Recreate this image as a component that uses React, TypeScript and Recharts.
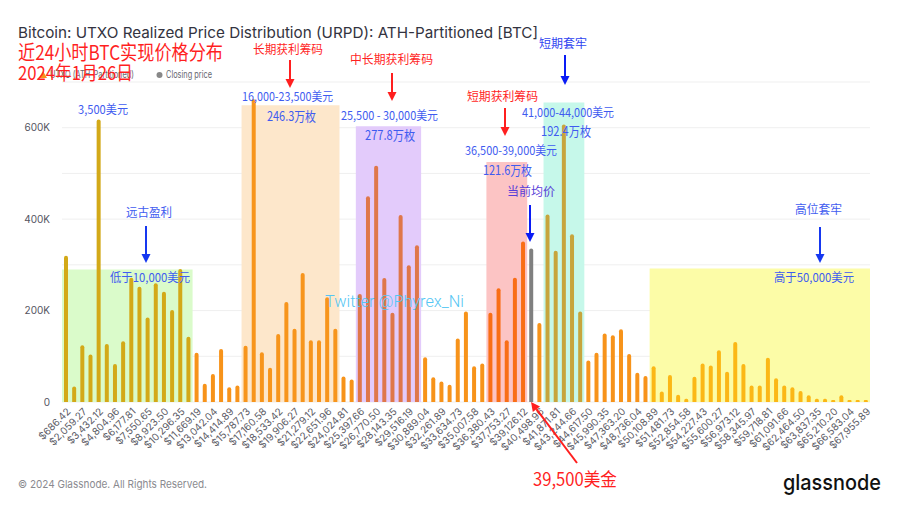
import React from 'react';
import { BarChart, Bar, XAxis, YAxis, CartesianGrid, ReferenceArea, Cell } from 'recharts';

const priceLabels = [
  '$686.42','$1,372.85','$2,059.27','$2,745.69','$3,432.12','$4,118.54','$4,804.96','$5,491.38','$6,177.81','$6,864.23',
  '$7,550.65','$8,237.08','$8,923.50','$9,609.92','$10,296.35','$10,982.77','$11,669.19','$12,355.62','$13,042.04','$13,728.46',
  '$14,414.89','$15,101.31','$15,787.73','$16,474.16','$17,160.58','$17,847.00','$18,533.42','$19,219.85','$19,906.27','$20,592.69',
  '$21,279.12','$21,965.54','$22,651.96','$23,338.39','$24,024.81','$24,711.23','$25,397.66','$26,084.08','$26,770.50','$27,456.93',
  '$28,143.35','$28,829.77','$29,516.19','$30,202.62','$30,889.04','$31,575.46','$32,261.89','$32,948.31','$33,634.73','$34,321.16',
  '$35,007.58','$35,694.00','$36,380.43','$37,066.85','$37,753.27','$38,439.70','$39,126.12','$39,812.54','$40,498.96','$41,185.39',
  '$41,871.81','$42,558.23','$43,244.66','$43,931.08','$44,617.50','$45,303.93','$45,990.35','$46,676.77','$47,363.20','$48,049.62',
  '$48,736.04','$49,422.47','$50,108.89','$50,795.31','$51,481.73','$52,168.16','$52,854.58','$53,541.00','$54,227.43','$54,913.85',
  '$55,600.27','$56,286.70','$56,973.12','$57,659.54','$58,345.97','$59,032.39','$59,718.81','$60,405.24','$61,091.66','$61,778.08',
  '$62,464.50','$63,150.93','$63,837.35','$64,523.77','$65,210.20','$65,896.62','$66,583.04','$67,269.47','$67,955.89',
];

const supplyBTC = [
  320000, 34000, 124000, 104000, 618000, 127000, 83000, 133000, 272000, 252000,
  185000, 260000, 241000, 201000, 291000, 143000, 108000, 40000, 61000, 116000,
  32000, 36000, 123000, 662000, 109000, 75000, 149000, 219000, 160000, 282000,
  135000, 135000, 229000, 160000, 56000, 49000, 236000, 450000, 517000, 271000,
  195000, 409000, 299000, 343000, 98000, 54000, 45000, 38000, 139000, 198000,
  78000, 84000, 195000, 249000, 135000, 272000, 351000, 336000, 173000, 410000,
  331000, 607000, 367000, 198000, 91000, 108000, 150000, 146000, 159000, 105000,
  64000, 57000, 78000, 23000, 59000, 16000, 7000, 55000, 84000, 80000,
  113000, 66000, 131000, 83000, 36000, 36000, 97000, 52000, 36000, 32000,
  24000, 15000, 7000, 7000, 3000, 15000, 1000, 3000, 4000,
];

const closingPriceLabel = '$39,812.54';

const yTicks = [0, 100000, 200000, 300000, 400000, 500000, 600000, 700000];

const zoneStart = ['$686.42', '$15,787.73', '$25,397.66', '$36,380.43', '$41,185.39', '$50,108.89'];
const zoneEnd = ['$10,982.77', '$23,338.39', '$30,202.62', '$39,126.12', '$43,931.08', '$67,955.89'];
const zoneTop = [290000, 649000, 603000, 525000, 655000, 292000];
const zoneFill = ['#dafbca', '#fde7cb', '#e3cbfb', '#fcc4c4', '#c6f8ea', '#fcfca7'];
const zoneBarColor = ['#d3a918', '#f7951c', '#df774a', '#f96e16', '#c7a53d', '#fbb716'];

const data = priceLabels.map((label, i) => ({ label, supply: supplyBTC[i] }));

const BASE = '#f7931a';

function barColor(label: string, idx: number) {
  if (label === closingPriceLabel) return '#808080';
  for (let z = 0; z < zoneStart.length; z++) {
    const s = priceLabels.indexOf(zoneStart[z]);
    const e = priceLabels.indexOf(zoneEnd[z]);
    if (idx >= s && idx <= e) return zoneBarColor[z];
  }
  return BASE;
}

const PriceTick = (props: any) => {
  const { x, y, payload } = props;
  return (
    <g transform={`translate(${x + 3},${y})`}>
      <text x={0} y={0} dy={3} textAnchor="end" transform="rotate(-45)" fontSize={10} fill="#5c5c66" fontFamily="Inter, sans-serif">
        {payload.value}
      </text>
    </g>
  );
};

const fmtY = (v: number) => (v === 0 ? '0' : v % 200000 === 0 ? `${v / 1000}K` : '');

function Arrow({ x1, y1, x2, y2, color, w = 2 }: any) {
  const dx = x2 - x1, dy = y2 - y1;
  const len = Math.sqrt(dx * dx + dy * dy);
  const ux = dx / len, uy = dy / len;
  const hl = 9, hw = 4.5;
  const bx = x2 - ux * hl, by = y2 - uy * hl;
  const px = -uy, py = ux;
  return (
    <g>
      <line x1={x1} y1={y1} x2={bx} y2={by} stroke={color} strokeWidth={w} />
      <polygon points={`${x2},${y2} ${bx + px * hw},${by + py * hw} ${bx - px * hw},${by - py * hw}`} fill={color} />
    </g>
  );
}

const CJK = '"Noto Sans CJK SC", sans-serif';
const BLUE = '#3f5cf0';
const RED = '#ff1f1f';

function T({ x, y, w, size = 12, fill = BLUE, children, family = CJK, weight = 400 }: any) {
  return (
    <text x={x} y={y} fontSize={size} fill={fill} fontFamily={family} fontWeight={weight}
      textLength={w} lengthAdjust="spacingAndGlyphs">{children}</text>
  );
}

export default function App() {
  return (
    <div style={{ position: 'absolute', left: 0, top: 0, width: 900, height: 507, background: '#fff', overflow: 'hidden' }}>
      <BarChart width={900} height={507} data={data} margin={{ top: 82, right: 30, bottom: 45, left: 0 }} barSize={4}>
        <CartesianGrid vertical={false} stroke="#efefef" />
        {zoneStart.map((s, i) => (
          <ReferenceArea key={s} x1={s} x2={zoneEnd[i]} y1={0} y2={zoneTop[i]} fill={zoneFill[i]} fillOpacity={1} stroke="none" ifOverflow="visible" />
        ))}
        <XAxis dataKey="label" interval={1} tickLine={false} axisLine={false} tickSize={0} tickMargin={8} height={60} tick={<PriceTick />} />
        <YAxis domain={[0, 700000]} ticks={yTicks} tickFormatter={fmtY} width={62} tickLine={false} axisLine={false} tickSize={0} tickMargin={12}
          tick={{ fontSize: 10, fill: '#55555f', fontFamily: 'Inter, sans-serif' }} interval={0} />
        <Bar dataKey="supply" isAnimationActive={false} radius={[2, 2, 0, 0]} minPointSize={2}>
          {data.map((d, i) => (
            <Cell key={d.label} fill={barColor(d.label, i)} />
          ))}
        </Bar>
      </BarChart>
      <svg width={900} height={507} style={{ position: 'absolute', left: 0, top: 0, pointerEvents: 'none' }}>
        <T x={18} y={38} w={520} size={15} fill="#333340" family="Inter, sans-serif">Bitcoin: UTXO Realized Price Distribution (URPD): ATH-Partitioned [BTC]</T>
        {/* legend */}
        <polygon points="43,71 47,78 39,78" fill={BASE} />
        <T x={50} y={78} w={84} size={10} fill="#66666f" family="Inter, sans-serif">UTXO (ATH-Partitioned)</T>
        <circle cx={159.5} cy={75} r={3} fill="#888" />
        <T x={166} y={78} w={46} size={10} fill="#66666f" family="Inter, sans-serif">Closing price</T>
        {/* red headline */}
        <T x={18} y={59.5} w={205} size={20} fill={RED}>近24小时BTC实现价格分布</T>
        <T x={18} y={80} w={115} size={19} fill={RED}>2024年1月26日</T>
        {/* red labels */}
        <T x={253} y={54} w={70} fill={RED}>长期获利筹码</T>
        <Arrow x1={290} y1={60} x2={290} y2={88} color={RED} />
        <T x={350} y={64} w={83} fill={RED}>中长期获利筹码</T>
        <Arrow x1={392} y1={73} x2={392} y2={101} color={RED} />
        <T x={467} y={101} w={71} fill={RED}>短期获利筹码</T>
        <Arrow x1={505} y1={108} x2={505} y2={136} color={RED} />
        <Arrow x1={577} y1={463} x2={531} y2={402} color={RED} />
        <T x={533} y={486} w={84} size={18} fill={RED}>39,500美金</T>
        {/* blue labels */}
        <T x={78} y={114} w={50}>3,500美元</T>
        <T x={242} y={101} w={91}>16,000-23,500美元</T>
        <T x={267} y={121} w={49} size={13}>246.3万枚</T>
        <T x={341} y={120} w={97}>25,500 - 30,000美元</T>
        <T x={365} y={140} w={50} size={13}>277.8万枚</T>
        <T x={465} y={155} w={92}>36,500-39,000美元</T>
        <T x={483} y={175} w={49} size={13}>121.6万枚</T>
        <T x={522} y={117} w={92}>41,000-44,000美元</T>
        <T x={541} y={136} w={50} size={13}>192.4万枚</T>
        <T x={126} y={217} w={46}>远古盈利</T>
        <Arrow x1={146} y1={226} x2={146} y2={263} color="#1638f0" />
        <T x={110} y={282} w={80}>低于10,000美元</T>
        <T x={795} y={214} w={47}>高位套牢</T>
        <Arrow x1={820} y1={227} x2={820} y2={263} color="#1638f0" />
        <T x={774} y={282} w={80}>高于50,000美元</T>
        <T x={507} y={196} w={48} fill="#5a3fd8">当前均价</T>
        <Arrow x1={530} y1={205} x2={530} y2={242} color="#0a1cf5" />
        <T x={539} y={48} w={48} fill="#3045f0">短期套牢</T>
        <Arrow x1={565} y1={55} x2={565} y2={85} color="#0a1cf5" />
        {/* watermark */}
        <T x={325} y={307} w={139} size={17} fill="#55c6f3" family="Roboto, sans-serif" weight={300}>Twitter @Phyrex_Ni</T>
        {/* footer */}
        <T x={18} y={488} w={189} size={11} fill="#8a8a8f" family="Inter, sans-serif">© 2024 Glassnode. All Rights Reserved.</T>
        <T x={783} y={490} w={98} size={22} fill="#111" family="Inter, sans-serif" weight={500}>glassnode</T>
      </svg>
    </div>
  );
}
